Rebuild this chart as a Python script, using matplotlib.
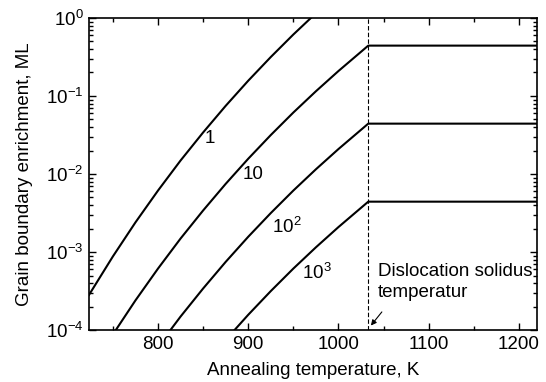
import matplotlib
matplotlib.use("Agg")
import matplotlib.pyplot as plt
from matplotlib.ticker import LogLocator, MultipleLocator

plt.rcParams['font.family'] = ['Liberation Sans', 'DejaVu Sans']
plt.rcParams['mathtext.fontset'] = 'custom'
plt.rcParams['mathtext.rm'] = 'Liberation Sans'

# values (ML), curves labelled by their value
t_1 = [723.5, 750, 775, 800, 825, 850, 875, 900, 925, 950, 975]
c_1 = [2.82e-4, 8.79e-4, 2.40e-3, 6.14e-3, 0.0149, 0.0341, 0.0748, 0.157, 0.316, 0.614, 1.15]

t_10 = [750, 775, 800, 825, 850, 875, 900, 925, 950, 975, 1000, 1033, 1220]
c_10 = [8.79e-5, 2.40e-4, 6.14e-4, 1.49e-3, 3.41e-3, 7.48e-3, 0.0157, 0.0316, 0.0614, 0.115, 0.209, 0.442, 0.442]

t_100 = [800, 825, 850, 875, 900, 925, 950, 975, 1000, 1033, 1220]
c_100 = [6.14e-5, 1.49e-4, 3.41e-4, 7.48e-4, 1.57e-3, 3.16e-3, 6.14e-3, 0.0115, 0.0209, 0.0442, 0.0442]

t_1000 = [875, 900, 925, 950, 975, 1000, 1033, 1220]
c_1000 = [7.48e-5, 1.57e-4, 3.16e-4, 6.14e-4, 1.15e-3, 2.09e-3, 4.42e-3, 4.42e-3]

t_solidus = 1033

curves = [(t_1, c_1, '1', 857, 10**-1.54),
          (t_10, c_10, '10', 905, 10**-2.01),
          (t_100, c_100, r'10$^2$', 943, 10**-2.68),
          (t_1000, c_1000, r'10$^3$', 976, 10**-3.26)]

fs = 13.5
fig = plt.figure(figsize=(5.46, 3.82), dpi=100)
ax = fig.add_axes([0.163, 0.136, 0.8205, 0.817])

for t, c, lab, tx, ty in curves:
    ax.plot(t, c, color='black', lw=1.5)
    ax.text(tx, ty, lab, fontsize=fs, ha='center', va='center')

ax.axvline(t_solidus, color='black', lw=0.8, ls=(0, (4, 2)))

ax.set_yscale('log')
ax.set_xlim(723.5, 1220)
ax.set_ylim(1e-4, 1)
ax.xaxis.set_major_locator(MultipleLocator(100))
ax.xaxis.set_minor_locator(MultipleLocator(50))
ax.yaxis.set_major_locator(LogLocator(base=10, numticks=10))
ax.yaxis.set_minor_locator(LogLocator(base=10, subs=range(2, 10), numticks=20))
ax.tick_params(which='both', direction='in', top=True, right=True, labelsize=fs, width=1.0)
ax.tick_params(which='major', length=5, pad=4)
ax.tick_params(which='minor', length=3)
for s in ax.spines.values():
    s.set_linewidth(1.2)

ax.set_xlabel('Annealing temperature, K', fontsize=fs, labelpad=7)
ax.set_ylabel('Grain boundary enrichment, ML', fontsize=fs, labelpad=9)

ax.text(1044, 10**-3.38, 'Dislocation solidus\ntemperatur', fontsize=fs,
        ha='left', va='center', linespacing=1.3)
ax.annotate('', xy=(1034, 10**-3.97), xytext=(1050, 10**-3.74),
            arrowprops=dict(arrowstyle='-|>', color='black', lw=0.8,
                            mutation_scale=8))

fig.savefig('out.png', dpi=100)
